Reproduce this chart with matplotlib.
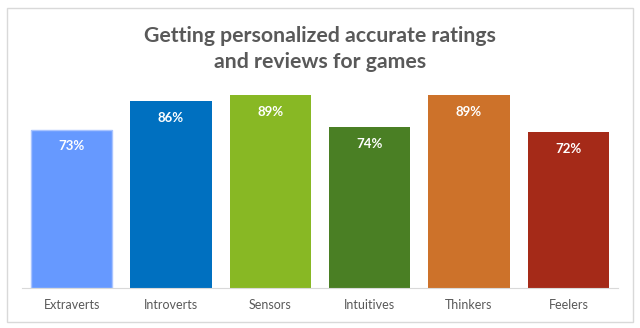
import matplotlib
matplotlib.use('Agg')
import matplotlib.pyplot as plt
from matplotlib.patches import Rectangle

categories = ['Extraverts', 'Introverts', 'Sensors', 'Intuitives', 'Thinkers', 'Feelers']
values = [73, 86, 89, 74, 89, 72]
colors = ['#6699FF', '#0070C0', '#88B824', '#4A7F24', '#CD722A', '#A52A18']

plt.rcParams['font.family'] = ['Lato', 'DejaVu Sans']

fig = plt.figure(figsize=(6.4, 3.28), dpi=100)
# chart border
fig.patches.append(Rectangle((7 / 640, 6 / 328), 626 / 640, 314 / 328, transform=fig.transFigure,
                             fill=False, edgecolor='#D9D9D9', linewidth=1.0))

ax = fig.add_axes([22 / 640, 40 / 328, 596 / 640, 217 / 328])
x = range(len(categories))
bars = ax.bar(x, values, width=0.82, color=colors, edgecolor='none')
bars[0].set_edgecolor('#A9C4FF')
bars[0].set_linewidth(1.0)

for xi, v in zip(x, values):
    ax.text(xi, v - 5, '%d%%' % v, ha='center', va='top', color='white',
            fontsize=9.5, fontweight='bold')

ax.set_xlim(-0.5, len(categories) - 0.5)
ax.set_ylim(0, 100)
ax.set_xticks(list(x))
ax.set_xticklabels(categories, fontsize=9, color='#595959')
ax.tick_params(axis='x', length=0, pad=8)
ax.set_yticks([])
for s in ['top', 'right', 'left']:
    ax.spines[s].set_visible(False)
ax.spines['bottom'].set_color('#D9D9D9')

fig.text(0.5, 279 / 328, 'Getting personalized accurate ratings\nand reviews for games',
         ha='center', va='center', fontsize=15.3, fontweight='bold', color='#595959',
         linespacing=1.42)

fig.savefig('out.png', dpi=100)
